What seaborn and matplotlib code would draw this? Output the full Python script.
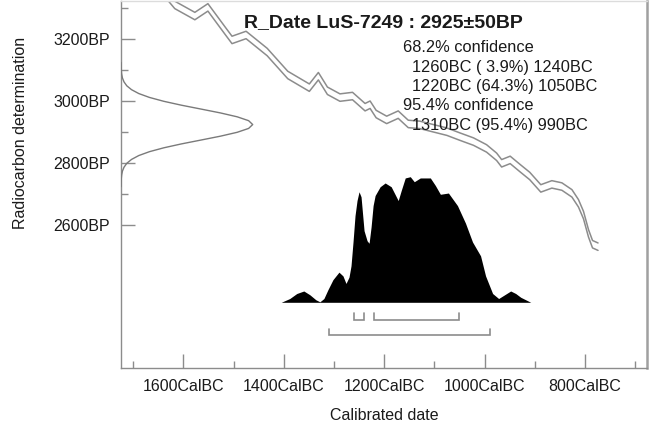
import numpy as np
import pandas as pd
import matplotlib
matplotlib.use("Agg")
import matplotlib.pyplot as plt
import seaborn as sns

# ---------------- data ----------------
# calibration curve: calendar year (BC) and radiocarbon age (BP), centre line
cal_bc = [1630, 1617, 1577, 1551, 1515, 1503, 1475, 1433, 1392, 1349,
          1331, 1313, 1288, 1263, 1238, 1228, 1216, 1195, 1172, 1152,
          1129, 1102, 1075, 1049, 1022, 996, 976, 966, 949, 929,
          910, 888, 866, 846, 826, 813, 803, 793, 785, 774]
cal_bp = [3336, 3311, 3275, 3303, 3224, 3198, 3214, 3159, 3085, 3044,
          3081, 3034, 3012, 3017, 2981, 2989, 2959, 2940, 2957, 2927,
          2924, 2913, 2902, 2886, 2870, 2848, 2821, 2800, 2811, 2784,
          2759, 2719, 2732, 2725, 2703, 2671, 2633, 2574, 2539, 2531]
cal_sigma = 12

gauss_bp = [2725, 2737.5, 2750, 2762.5, 2775, 2787.5, 2800, 2812.5, 2825, 2837.5,
            2850, 2862.5, 2875, 2887.5, 2900, 2912.5, 2925, 2937.5, 2950, 2962.5,
            2975, 2987.5, 3000, 3012.5, 3025, 3037.5, 3050, 3062.5, 3075, 3087.5,
            3100, 3112.5, 3125]
gauss_p = [0.0003, 0.001, 0.002, 0.005, 0.011, 0.023, 0.044, 0.080, 0.135, 0.216,
           0.325, 0.458, 0.607, 0.755, 0.882, 0.969, 1.0, 0.969, 0.882, 0.755,
           0.607, 0.458, 0.325, 0.216, 0.135, 0.080, 0.044, 0.023, 0.011, 0.005,
           0.002, 0.001, 0.0003]

# calibrated distribution: year BC and relative probability
dist_bc = [1405, 1388, 1374, 1360, 1348, 1336, 1328, 1320, 1312, 1302,
           1290, 1282, 1276, 1270, 1266, 1262, 1258, 1254, 1250, 1246,
           1240, 1234, 1230, 1226, 1222, 1218, 1208, 1198, 1186, 1172,
           1166, 1158, 1148, 1140, 1128, 1118, 1108, 1098, 1088, 1072,
           1054, 1038, 1024, 1008, 998, 984, 972, 960, 948, 938,
           928, 918, 908]
dist_p = [0, .03, .07, .09, .06, .02, .004, .03, .10, .18,
          .24, .21, .15, .20, .29, .48, .69, .81, .88, .84,
          .57, .49, .47, .60, .77, .85, .92, .95, .92, .81,
          .89, .99, 1.0, .96, .99, .99, .99, .93, .86, .87,
          .77, .63, .48, .37, .21, .07, .03, .06, .09, .07,
          .04, .02, 0]

range68 = [(1260, 1240), (1220, 1050)]
range95 = [(1310, 990)]

x_major = [1600, 1400, 1200, 1000, 800]
x_minor = [1700, 1500, 1300, 1100, 900, 700]
y_major = [2600, 2800, 3000, 3200]
y_minor = [2700, 2900, 3100, 3300]

title = "R_Date LuS-7249 : 2925\u00b150BP"
conf_lines = ["68.2% confidence",
              "1260BC ( 3.9%) 1240BC",
              "1220BC (64.3%) 1050BC",
              "95.4% confidence",
              "1310BC (95.4%) 990BC"]

# ---------------- figure ----------------
sns.set_theme(style="white")
plt.rcParams["font.family"] = ["Liberation Sans", "DejaVu Sans"]

W, H = 655, 430
fig = plt.figure(figsize=(W / 100, H / 100), dpi=100)
ax = fig.add_axes([121 / W, 1 - 367.7 / H, (647.3 - 121) / W, (367.7 - 0.5) / H])
ax_g = ax.twiny()
ax_d = ax.twinx()

line_col = "#8c8c8c"

# calibration curve (two lines: +/- sigma)
curve = pd.DataFrame({"year": [-v for v in cal_bc],
                      "hi": [v + cal_sigma for v in cal_bp],
                      "lo": [v - cal_sigma for v in cal_bp]})
sns.lineplot(data=curve, x="year", y="hi", ax=ax, color=line_col, lw=1.1,
             estimator=None, sort=False, solid_joinstyle="round")
sns.lineplot(data=curve, x="year", y="lo", ax=ax, color=line_col, lw=1.1,
             estimator=None, sort=False, solid_joinstyle="round")

# measurement gaussian on the left
gdf = pd.DataFrame({"p": gauss_p, "bp": gauss_bp})
sns.lineplot(data=gdf, x="p", y="bp", ax=ax_g, color="#7a7a7a", lw=1.0,
             estimator=None, sort=False, solid_joinstyle="round")

# calibrated distribution
ddf = pd.DataFrame({"year": [-v for v in dist_bc], "p": dist_p})
ax_d.fill_between(ddf["year"], ddf["p"], 0, color="black", lw=0)

def bracket(a, b, top, bot):
    ax_d.plot([-a, -a, -b, -b], [top, bot, bot, top], color="#8c8c8c", lw=1.2,
              solid_joinstyle="miter")

for a, b in range68:
    bracket(a, b, -0.088, -0.141)
for a, b in range95:
    bracket(a, b, -0.215, -0.263)

# limits
ax.set_xlim(-1724.1, -675.9)
ax.set_ylim(2140.6, 3325.2)
ax_g.set_xlim(0, 526.3 / 131.7)
ax_d.set_ylim(-0.5207, 2.4029)

# ticks
ax.set_xticks([-v for v in x_major])
ax.set_xticklabels([f"{v}CalBC" for v in x_major])
ax.set_xticks([-v for v in x_minor], minor=True)
ax.set_yticks(y_major)
ax.set_yticklabels([f"{v}BP" for v in y_major])
ax.set_yticks(y_minor, minor=True)
ax.tick_params(which="major", direction="in", length=10, width=1.0,
               color="#8c8c8c", labelsize=11.5, labelcolor="#1a1a1a", pad=8,
               bottom=True, left=True)
ax.tick_params(which="minor", direction="in", length=5, width=1.0,
               color="#8c8c8c", bottom=True, left=True)
ax.set_xlabel("")
ax.set_ylabel("")

for a in (ax_g, ax_d):
    a.set_xlabel("")
    a.set_ylabel("")
    a.tick_params(top=False, right=False, labeltop=False, labelright=False,
                  bottom=False, left=False, labelbottom=False, labelleft=False)
    for s in a.spines.values():
        s.set_visible(False)
    a.grid(False)
ax.grid(False)

ax.spines["left"].set_color("#8c8c8c")
ax.spines["bottom"].set_color("#8c8c8c")
ax.spines["left"].set_linewidth(1.0)
ax.spines["bottom"].set_linewidth(1.0)
ax.spines["top"].set_color("#dcdcdc")
ax.spines["top"].set_linewidth(1.0)
ax.spines["right"].set_color("#a0a0a0")
ax.spines["right"].set_linewidth(1.8)

# texts
fig.text(383.5 / W, 1 - 26.7 / H, title, ha="center", va="baseline",
         fontsize=14, fontweight="bold", color="#1a1a1a")
conf_x = [403, 412.3, 412.3, 403, 412.3]
conf_y = [52.3, 71.7, 90.7, 110.0, 130.0]
for s, xx, yy in zip(conf_lines, conf_x, conf_y):
    fig.text(xx / W, 1 - yy / H, s, ha="left", va="baseline", fontsize=11.8,
             color="#1a1a1a")

fig.text(384 / W, 1 - 416 / H, "Calibrated date", ha="center", va="center",
         fontsize=11.5, color="#1a1a1a")
fig.text(21 / W, 1 - 133 / H, "Radiocarbon determination", ha="center",
         va="center", rotation=90, fontsize=11.5, color="#1a1a1a")

fig.savefig("out.png", dpi=100)
